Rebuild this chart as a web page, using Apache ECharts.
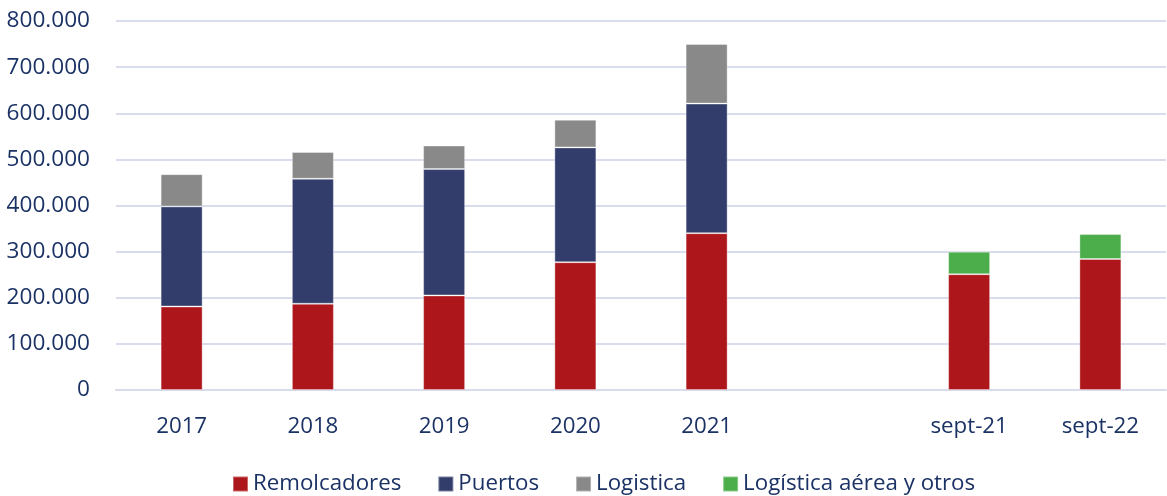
<!DOCTYPE html>
<html>
<head>
<meta charset="utf-8">
<script src="https://cdn.jsdelivr.net/npm/echarts@6/dist/echarts.min.js"></script>
<style>
  html, body { margin: 0; padding: 0; background: #fff; }
  #main { width: 1167px; height: 496px; }
</style>
</head>
<body>
<div id="main"></div>
<script>
// categorías (hueco vacío entre 2021 y sept-21)
const categories = ['2017', '2018', '2019', '2020', '2021', '', 'sept-21', 'sept-22']

// valores
const remolcadores = [181000, 187000, 205000, 277000, 340000, null, 251000, 284000]
const puertos = [217000, 271000, 274000, 249000, 281000, null, null, null]
const logistica = [70000, 58000, 51000, 60000, 129000, null, null, null]
const logisticaAerea = [null, null, null, null, null, null, 49000, 54000]

const textColor = '#1B3265'
const gridColor = '#D9DCEC'
const font = '"Open Sans", "Noto Sans", sans-serif'

const fmt = v => String(v).replace(/\B(?=(\d{3})+(?!\d))/g, '.')

const chart = echarts.init(document.getElementById('main'))

function bar(name, data, color) {
  return {
    name: name,
    type: 'bar',
    stack: 'total',
    data: data,
    barWidth: 42,
    itemStyle: { color: color, borderColor: 'rgba(255,255,255,0.35)', borderWidth: 1 }
  }
}

chart.setOption({
  animation: false,
  textStyle: { fontFamily: font },
  grid: { left: 116, right: 1, top: 21, bottom: 106 },
  legend: {
    left: 227,
    top: 468,
    icon: 'rect',
    itemWidth: 15,
    itemHeight: 15,
    itemGap: 36,
    textStyle: { color: textColor, fontSize: 22.3, fontFamily: font }
  },
  xAxis: {
    type: 'category',
    data: categories,
    axisTick: { show: false },
    axisLine: { lineStyle: { color: gridColor, width: 2 } },
    axisLabel: { color: textColor, fontSize: 22.3, margin: 26, fontFamily: font }
  },
  yAxis: {
    type: 'value',
    min: 0,
    max: 800000,
    interval: 100000,
    axisLabel: { color: textColor, fontSize: 22.6, margin: 26, fontFamily: font, formatter: fmt },
    splitLine: { lineStyle: { color: gridColor, width: 2 } }
  },
  series: [
    bar('Remolcadores', remolcadores, '#AD161A'),
    bar('Puertos', puertos, '#333D6B'),
    bar('Logistica', logistica, '#898989'),
    bar('Logística aérea y otros', logisticaAerea, '#4BAE4B')
  ]
})
</script>
</body>
</html>
